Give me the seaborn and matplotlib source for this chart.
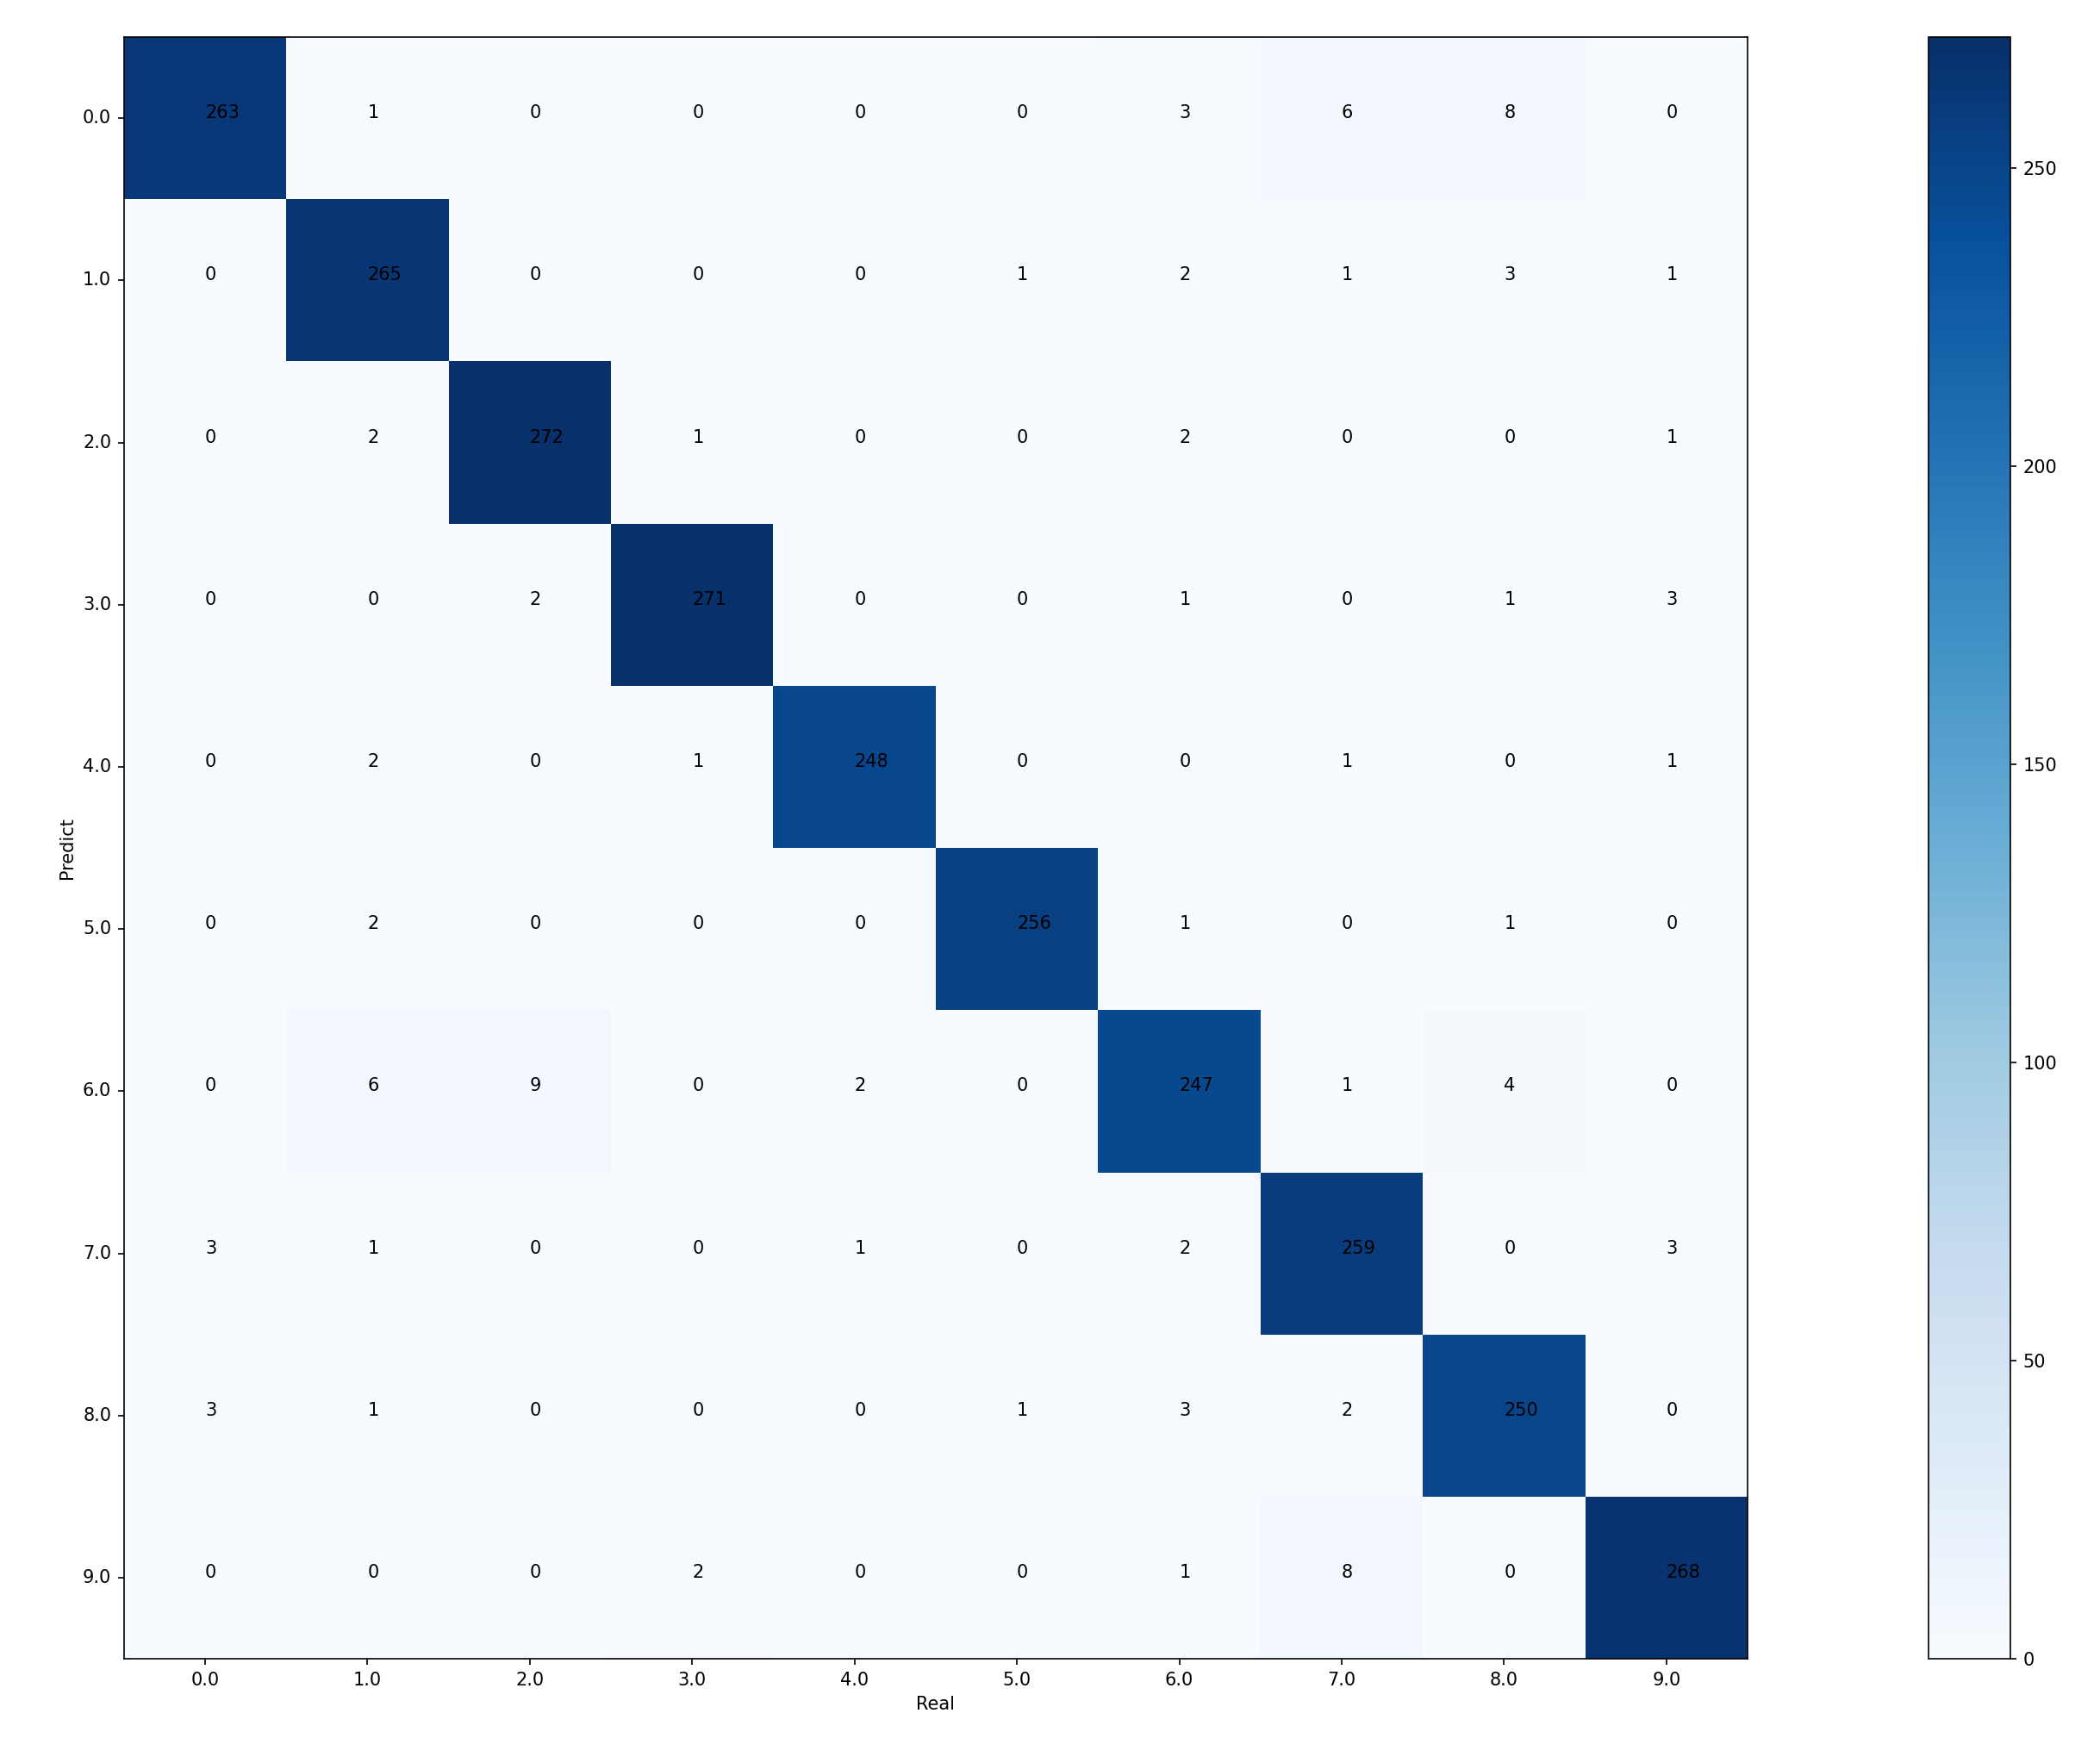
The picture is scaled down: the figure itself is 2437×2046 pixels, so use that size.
import matplotlib
matplotlib.use("Agg")
import matplotlib.pyplot as plt
import seaborn as sns
import numpy as np

labels = ["0.0", "1.0", "2.0", "3.0", "4.0", "5.0", "6.0", "7.0", "8.0", "9.0"]

# rows = Predict, cols = Real
row0 = [263, 1, 0, 0, 0, 0, 3, 6, 8, 0]
row1 = [0, 265, 0, 0, 0, 1, 2, 1, 3, 1]
row2 = [0, 2, 272, 1, 0, 0, 2, 0, 0, 1]
row3 = [0, 0, 2, 271, 0, 0, 1, 0, 1, 3]
row4 = [0, 2, 0, 1, 248, 0, 0, 1, 0, 1]
row5 = [0, 2, 0, 0, 0, 256, 1, 0, 1, 0]
row6 = [0, 6, 9, 0, 2, 0, 247, 1, 4, 0]
row7 = [3, 1, 0, 0, 1, 0, 2, 259, 0, 3]
row8 = [3, 1, 0, 0, 0, 1, 3, 2, 250, 0]
row9 = [0, 0, 0, 2, 0, 0, 1, 8, 0, 268]
cm = np.array([row0, row1, row2, row3, row4, row5, row6, row7, row8, row9])

fig = plt.figure(figsize=(16.25, 13.64), dpi=150)
ax = fig.add_axes([0.059, 0.059, 0.773, 0.92])
cax = fig.add_axes([0.918, 0.059, 0.039, 0.92])

sns.heatmap(cm, cmap="Blues", vmin=0, ax=ax, cbar_ax=cax,
            xticklabels=labels, yticklabels=labels, square=False)

for i in range(cm.shape[0]):
    for j in range(cm.shape[1]):
        ax.text(j + 0.5, i + 0.5, str(cm[i, j]), ha="left", va="baseline",
                color="black", fontsize=10)

for s in ax.spines.values():
    s.set_visible(True)
    s.set_color("black")
ax.tick_params(axis="both", length=3.5, labelsize=10)
ax.set_yticklabels(labels, rotation=0)
ax.set_xticklabels(labels, rotation=0)
ax.set_xlabel("Real", fontsize=10)
ax.set_ylabel("Predict", fontsize=10)

cax.set_yticks([0, 50, 100, 150, 200, 250])
cax.tick_params(labelsize=10, length=3.5)
cb = ax.collections[0].colorbar
cb.outline.set_visible(True)
cb.outline.set_edgecolor("black")
cb.outline.set_linewidth(0.8)

fig.savefig("out.png", dpi=150)
